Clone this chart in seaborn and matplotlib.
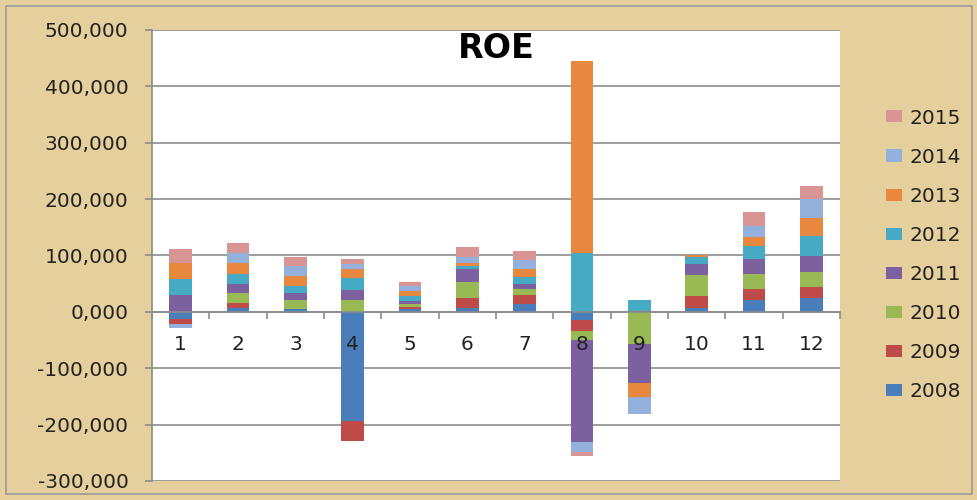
import matplotlib
matplotlib.use("Agg")
import matplotlib.pyplot as plt
import matplotlib.ticker as mticker
from matplotlib.patches import Rectangle, Patch
import seaborn as sns
import numpy as np
import pandas as pd

categories = ["1", "2", "3", "4", "5", "6", "7", "8", "9", "10", "11", "12"]
years = ["2008", "2009", "2010", "2011", "2012", "2013", "2014", "2015"]
v2008 = [-13.0, 7.7, 5.0, -193.0, 4.7, 7.7, 14.8, -13.6, 0.0, 7.7, 20.7, 25.4]
v2009 = [-8.9, 8.9, -2.0, -35.5, 4.1, 17.7, 14.8, -20.7, 2.0, 20.7, 19.5, 18.9]
v2010 = [0.0, 16.5, 16.0, 20.7, 4.7, 28.4, 10.6, -14.8, -57.3, 36.6, 26.6, 26.6]
v2011 = [29.6, 16.0, 12.4, 17.7, 5.9, 23.0, 8.9, -181.4, -69.1, 19.5, 27.8, 28.4]
v2012 = [29.6, 17.7, 13.0, 21.3, 8.9, 4.7, 13.0, 105.0, 18.7, 12.5, 23.0, 35.5]
v2013 = [27.2, 19.5, 16.5, 17.1, 8.9, 5.9, 14.8, 340.0, -25.4, 4.5, 14.8, 32.5]
v2014 = [-5.9, 18.9, 17.7, 7.7, 8.3, 10.6, 15.4, -17.7, -29.6, 0.0, 20.1, 33.7]
v2015 = [24.8, 17.7, 16.0, 10.0, 7.7, 17.1, 14.8, -7.1, 0.0, 0.0, 25.4, 22.5]
series = [v2008, v2009, v2010, v2011, v2012, v2013, v2014, v2015]
colors = ["#4A7EBB", "#BE4B48", "#98B954", "#7D60A0", "#46AAC5", "#E8883F", "#94B1DE", "#D99594"]
title = "ROE"

bg = "#E5CF9C"
fig = plt.figure(figsize=(9.78, 5.0), dpi=100, facecolor=bg)
fig.patches.append(Rectangle((0.006, 0.012), 0.988, 0.976, transform=fig.transFigure,
                             fill=False, edgecolor="#9A9A9A", linewidth=1.2))
ax = fig.add_axes([152/978, 1 - 481/500, (840-152)/978, (481-30)/500])
ax.set_facecolor("white")

pos_bottom = np.zeros(len(categories))
neg_bottom = np.zeros(len(categories))
for yr, vals, col in zip(years, series, colors):
    vals = np.array(vals, dtype=float)
    bottoms = np.where(vals >= 0, pos_bottom, neg_bottom)
    df = pd.DataFrame({"cat": categories, "val": vals})
    sns.barplot(data=df, x="cat", y="val", order=categories, color=col, saturation=1,
                width=0.4, errorbar=None, bottom=bottoms, ax=ax, linewidth=0, zorder=2)
    pos_bottom = pos_bottom + np.where(vals > 0, vals, 0)
    neg_bottom = neg_bottom + np.where(vals < 0, vals, 0)

ax.set_xlim(-0.5, 11.5)
ax.set_ylim(-300, 500)
ax.set_yticks(np.arange(-300, 501, 100))
ax.yaxis.set_major_formatter(mticker.FuncFormatter(lambda v, p: f"{v:.3f}".replace(".", ",")))
ax.grid(axis="y", color="#8C8C8C", linewidth=1.2)
ax.grid(axis="x", visible=False)
ax.set_axisbelow(True)
ax.xaxis.set_zorder(5)
for s in ["top", "right"]:
    ax.spines[s].set_visible(False)
ax.spines["left"].set_color("#8C8C8C")
ax.spines["left"].set_linewidth(1.2)
ax.spines["bottom"].set_position(("data", 0))
ax.spines["bottom"].set_color("#8C8C8C")
ax.spines["bottom"].set_linewidth(1.2)
ax.spines["bottom"].set_zorder(4)

ax.set_xticks(np.arange(-0.5, 12, 1), minor=True)
ax.tick_params(axis="x", which="major", length=0, pad=17, labelsize=14.5, colors="#222222")
ax.tick_params(axis="x", which="minor", length=5, direction="out", color="#8C8C8C", width=1.2)
ax.tick_params(axis="y", length=5, direction="out", color="#8C8C8C", width=1.2, pad=12,
               labelsize=14.5, labelcolor="#222222")
ax.set_xlabel("")
ax.set_ylabel("")

ax.text(0.5, 0.96, title, transform=ax.transAxes, ha="center", va="center",
        fontsize=24, fontweight="bold", color="black", zorder=6)

handles = [Patch(facecolor=c, edgecolor="none", label=y) for y, c in zip(years, colors)]
handles = handles[::-1]
fig.legend(handles=handles, loc="center left", bbox_to_anchor=(868/978, 1 - 255/500),
           frameon=False, fontsize=14.5, labelspacing=1.0, handlelength=0.8,
           handleheight=0.55, handletextpad=0.35, labelcolor="#222222")

fig.savefig("out.png", dpi=100, facecolor=bg)
